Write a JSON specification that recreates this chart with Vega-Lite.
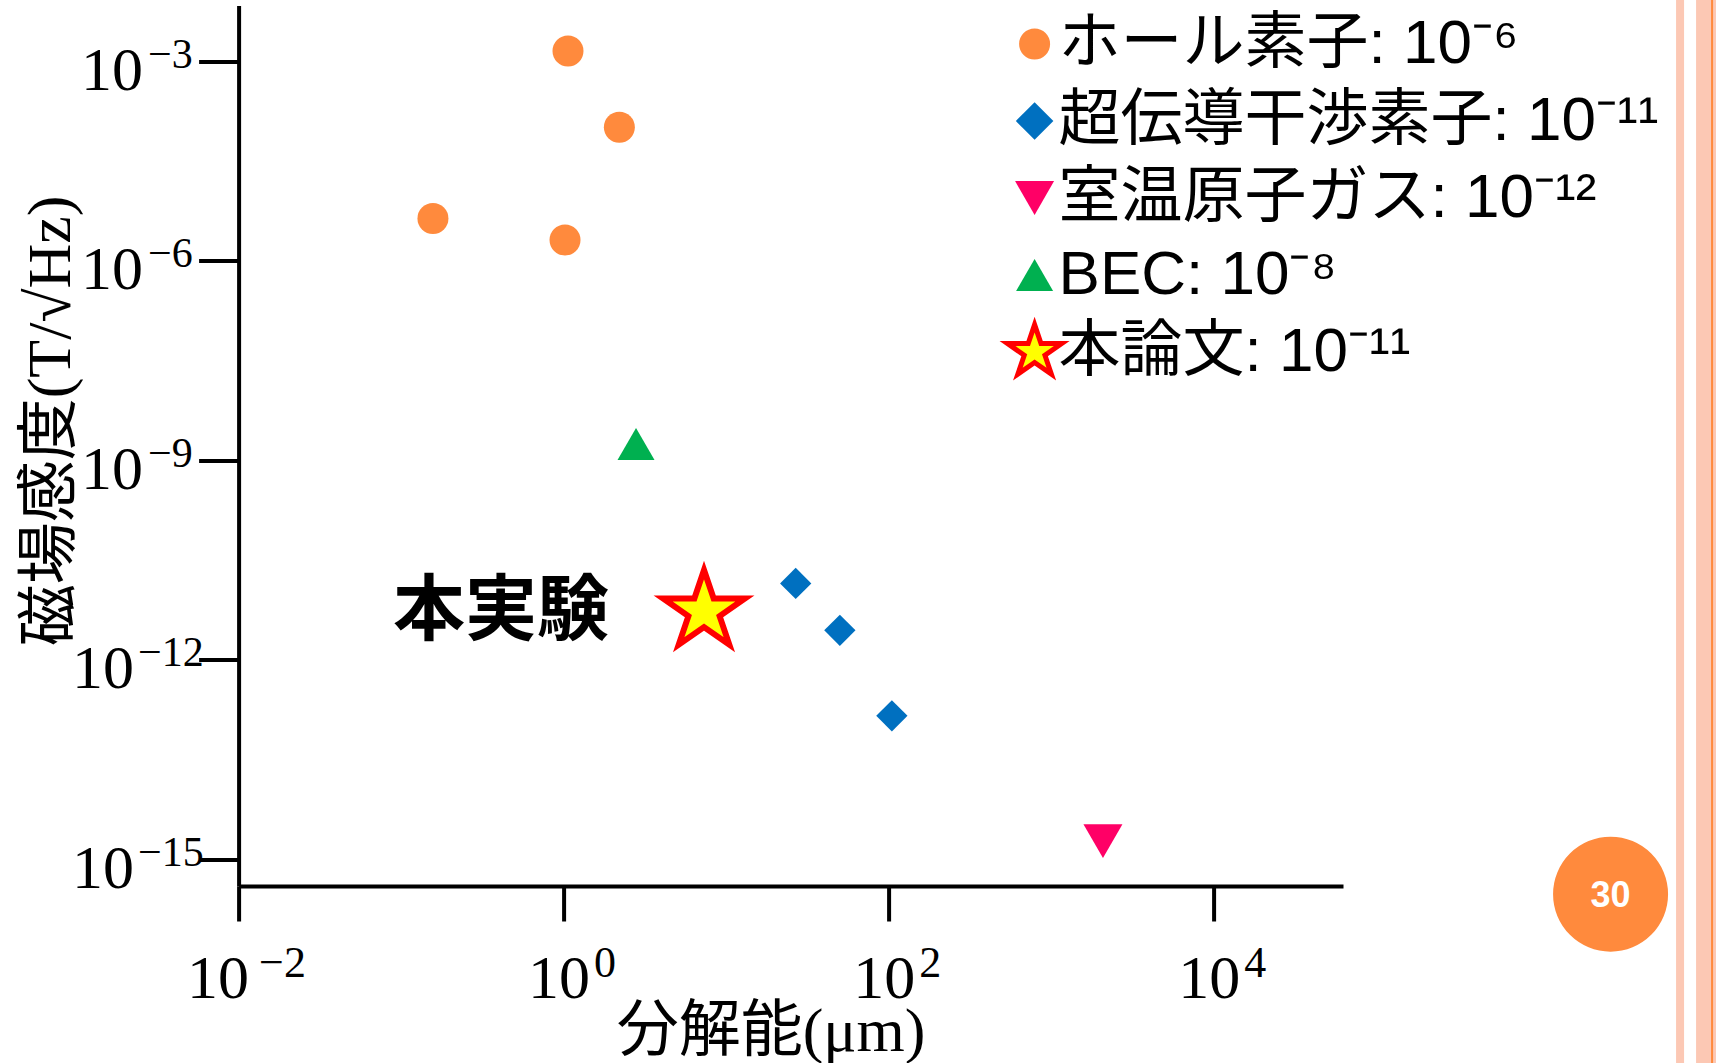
{
  "$schema": "https://vega.github.io/schema/vega-lite/v6.json",
  "width": 1104.4,
  "height": 880.5,
  "autosize": {"type": "none"},
  "padding": {"left": 238.6, "top": 5.5, "right": 373, "bottom": 177},
  "background": "white",
  "config": {"view": {"stroke": null}},
  "resolve": {"axis": {"x": "independent", "y": "independent"}},
  "datasets": {
    "points": [
      {"method": "ホール素子: 10⁻⁶", "resolution": 1.064, "sensitivity": 1.43e-3},
      {"method": "ホール素子: 10⁻⁶", "resolution": 2.203, "sensitivity": 1.02e-4},
      {"method": "ホール素子: 10⁻⁶", "resolution": 0.157, "sensitivity": 4.33e-6},
      {"method": "ホール素子: 10⁻⁶", "resolution": 1.02, "sensitivity": 2.06e-6},
      {"method": "超伝導干渉素子: 10⁻¹¹", "resolution": 26.8, "sensitivity": 1.41e-11},
      {"method": "超伝導干渉素子: 10⁻¹¹", "resolution": 50.1, "sensitivity": 2.78e-12},
      {"method": "超伝導干渉素子: 10⁻¹¹", "resolution": 104.7, "sensitivity": 1.44e-13},
      {"method": "室温原子ガス: 10⁻¹²", "resolution": 2084, "sensitivity": 1.88e-15},
      {"method": "BEC: 10⁻⁸", "resolution": 2.79, "sensitivity": 1.76e-9},
      {"method": "本論文: 10⁻¹¹", "resolution": 7.31, "sensitivity": 5.38e-12}
    ],
    "annotations": [
      {"label": "本実験", "resolution": 0.412, "sensitivity": 5.28e-12}
    ],
    "page": [
      {"label": "30", "resolution": 2.77e6, "sensitivity": 3.0e-16}
    ],
    "stripes": [
      {"from": 7.007e6, "to": 7.848e6},
      {"from": 9.303e6, "to": 2e7}
    ],
    "accent": [
      {"from": 1.1506e7, "to": 1.1838e7}
    ]
  },
  "layer": [
    {
      "data": {"name": "stripes"},
      "mark": {"type": "rect", "color": "#FCC8B4"},
      "encoding": {
        "x": {"field": "from", "type": "quantitative", "scale": {"type": "log", "domain": [0.01, 62517], "nice": false, "zero": false}, "axis": null},
        "x2": {"field": "to"},
        "y": {"datum": 0.1, "type": "quantitative", "scale": {"type": "log", "domain": [3.981e-16, 6.902e-3], "nice": false, "zero": false}, "axis": null},
        "y2": {"datum": 1e-19}
      }
    },
    {
      "data": {"name": "accent"},
      "mark": {"type": "rect", "color": "#FF8A3D"},
      "encoding": {
        "x": {"field": "from", "type": "quantitative", "scale": {"type": "log", "domain": [0.01, 62517], "nice": false, "zero": false}, "axis": null},
        "x2": {"field": "to"},
        "y": {"datum": 0.1, "type": "quantitative", "scale": {"type": "log", "domain": [3.981e-16, 6.902e-3], "nice": false, "zero": false}, "axis": null},
        "y2": {"datum": 1e-19}
      }
    },
    {
      "data": {"name": "page"},
      "mark": {"type": "point", "shape": "circle", "filled": true, "opacity": 1, "size": 13225, "color": "#FF8A3D"},
      "encoding": {
        "x": {"field": "resolution", "type": "quantitative", "scale": {"type": "log", "domain": [0.01, 62517], "nice": false, "zero": false}, "axis": null},
        "y": {"field": "sensitivity", "type": "quantitative", "scale": {"type": "log", "domain": [3.981e-16, 6.902e-3], "nice": false, "zero": false}, "axis": null}
      }
    },
    {
      "data": {"name": "page"},
      "mark": {"type": "text", "font": "Liberation Sans", "fontWeight": "bold", "fontSize": 36, "color": "white", "align": "center", "baseline": "middle", "dy": 2},
      "encoding": {
        "x": {"field": "resolution", "type": "quantitative", "scale": {"type": "log", "domain": [0.01, 62517], "nice": false, "zero": false}, "axis": null},
        "y": {"field": "sensitivity", "type": "quantitative", "scale": {"type": "log", "domain": [3.981e-16, 6.902e-3], "nice": false, "zero": false}, "axis": null},
        "text": {"field": "label"}
      }
    },
    {
      "data": {"name": "points"},
      "transform": [{"filter": {"field": "method", "oneOf": ["ホール素子: 10⁻⁶", "室温原子ガス: 10⁻¹²", "BEC: 10⁻⁸"]}}],
      "mark": {"type": "point", "filled": true, "opacity": 1},
      "encoding": {
        "x": {
          "field": "resolution", "type": "quantitative",
          "scale": {"type": "log", "domain": [0.01, 62517], "nice": false, "zero": false},
          "axis": {
            "orient": "bottom",
            "title": "分解能(μm)",
            "values": [0.01, 1, 100, 10000],
            "labelExpr": "'10'",
            "grid": false,
            "domainColor": "black", "domainWidth": 4,
            "tickColor": "black", "tickWidth": 4, "tickSize": 35,
            "labelFont": "Liberation Serif", "labelFontSize": 62, "labelColor": "black",
            "labelPadding": 27, "labelBaseline": "top", "labelAlign": "center", "labelFlush": false, "labelOverlap": false,
            "labelOffset": {"condition": {"test": "datum.value < 0.1", "value": -21}, "value": -5},
            "titleFont": "Liberation Serif, Noto Sans CJK JP", "titleFontSize": 62, "titleFontWeight": "normal", "titleColor": "black",
            "titleX": 532, "titleY": 145, "titleBaseline": "middle", "titleAlign": "center"
          }
        },
        "y": {
          "field": "sensitivity", "type": "quantitative",
          "scale": {"type": "log", "domain": [3.981e-16, 6.902e-3], "nice": false, "zero": false},
          "axis": {
            "orient": "left",
            "title": "磁場感度(T/√Hz)",
            "values": [1e-15, 1e-12, 1e-9, 1e-6, 1e-3],
            "labelExpr": "'10'",
            "grid": false,
            "domainColor": "black", "domainWidth": 4,
            "tickColor": "black", "tickWidth": 4, "tickSize": 40,
            "labelFont": "Liberation Serif", "labelFontSize": 62, "labelColor": "black",
            "labelPadding": {"condition": {"test": "datum.value < 1e-10", "value": 65}, "value": 56},
            "labelOffset": 9, "labelAlign": "right", "labelBaseline": "middle", "labelOverlap": false, "labelFlush": false,
            "titleFont": "Liberation Serif, Noto Sans CJK JP", "titleFontSize": 62, "titleFontWeight": "normal", "titleColor": "black",
            "titleX": -188, "titleY": 415, "titleBaseline": "middle", "titleAlign": "center", "titleAngle": 270
          }
        },
        "color": {
          "field": "method", "type": "nominal",
          "scale": {
            "domain": ["ホール素子: 10⁻⁶", "超伝導干渉素子: 10⁻¹¹", "室温原子ガス: 10⁻¹²", "BEC: 10⁻⁸", "本論文: 10⁻¹¹"],
            "range": ["#FF8A3D", "#0070C0", "#FF0066", "#00B050", "#FFFF00"]
          },
          "legend": {
            "title": null,
            "orient": "none",
            "legendX": 765,
            "legendY": 7.5,
            "padding": 0,
            "gridAlign": "all",
            "symbolOffset": 0,
            "symbolStrokeWidth": 5,
            "labelOffset": -7,
            "labelFont": "Liberation Sans, Noto Sans CJK JP",
            "labelFontSize": 62,
            "labelColor": "black",
            "labelLimit": 1000,
            "rowPadding": 6
          }
        },
        "shape": {
          "field": "method", "type": "nominal",
          "scale": {
            "domain": ["ホール素子: 10⁻⁶", "超伝導干渉素子: 10⁻¹¹", "室温原子ガス: 10⁻¹²", "BEC: 10⁻⁸", "本論文: 10⁻¹¹"],
            "range": ["circle", "diamond", "triangle-down", "triangle-up", "M0,-0.96L0.2245,-0.2966L0.9511,-0.2966L0.3633,0.1133L0.5878,0.7766L0,0.3667L-0.5878,0.7766L-0.3633,0.1133L-0.9511,-0.2966L-0.2245,-0.2966Z"]
          }
        },
        "size": {
          "field": "method", "type": "nominal",
          "scale": {
            "type": "ordinal",
            "domain": ["ホール素子: 10⁻⁶", "超伝導干渉素子: 10⁻¹¹", "室温原子ガス: 10⁻¹²", "BEC: 10⁻⁸", "本論文: 10⁻¹¹"],
            "range": [961, 1406, 1521, 1370, 3249]
          },
          "legend": null
        },
        "stroke": {
          "field": "method", "type": "nominal",
          "scale": {
            "domain": ["ホール素子: 10⁻⁶", "超伝導干渉素子: 10⁻¹¹", "室温原子ガス: 10⁻¹²", "BEC: 10⁻⁸", "本論文: 10⁻¹¹"],
            "range": ["transparent", "transparent", "transparent", "transparent", "#FF0000"]
          },
          "legend": null
        }
      }
    },
    {
      "data": {"name": "points"},
      "transform": [{"filter": {"field": "method", "oneOf": ["超伝導干渉素子: 10⁻¹¹"]}}],
      "mark": {"type": "point", "filled": true, "opacity": 1, "size": 980},
      "encoding": {
        "x": {"field": "resolution", "type": "quantitative", "scale": {"type": "log", "domain": [0.01, 62517], "nice": false, "zero": false}, "axis": null},
        "y": {"field": "sensitivity", "type": "quantitative", "scale": {"type": "log", "domain": [3.981e-16, 6.902e-3], "nice": false, "zero": false}, "axis": null},
        "color": {"field": "method", "type": "nominal"},
        "shape": {"field": "method", "type": "nominal"}
      }
    },
    {
      "data": {"name": "points"},
      "transform": [{"filter": {"field": "method", "oneOf": ["本論文: 10⁻¹¹"]}}],
      "mark": {"type": "point", "filled": true, "opacity": 1, "size": 7396, "stroke": "#FF0000", "strokeWidth": 6, "strokeJoin": "miter"},
      "encoding": {
        "x": {"field": "resolution", "type": "quantitative", "scale": {"type": "log", "domain": [0.01, 62517], "nice": false, "zero": false}, "axis": null},
        "y": {"field": "sensitivity", "type": "quantitative", "scale": {"type": "log", "domain": [3.981e-16, 6.902e-3], "nice": false, "zero": false}, "axis": null},
        "color": {"field": "method", "type": "nominal"},
        "shape": {"field": "method", "type": "nominal"}
      }
    },
    {
      "data": {"name": "annotations"},
      "mark": {"type": "text", "font": "Noto Sans CJK JP", "fontWeight": "bold", "fontSize": 72, "color": "black", "align": "center", "baseline": "middle"},
      "encoding": {
        "x": {
          "field": "resolution", "type": "quantitative",
          "scale": {"type": "log", "domain": [0.01, 62517], "nice": false, "zero": false},
          "axis": {
            "orient": "bottom",
            "title": null,
            "values": [0.01, 1, 100, 10000],
            "labelExpr": "round(log(datum.value)/LN10) < 0 ? '−' + (-round(log(datum.value)/LN10)) : '' + round(log(datum.value)/LN10)",
            "domain": false, "ticks": false, "tickSize": 0, "grid": false,
            "labelFont": "Liberation Serif", "labelFontSize": 44, "labelColor": "black",
            "labelPadding": 55, "labelBaseline": "top", "labelAlign": "left", "labelFlush": false, "labelOverlap": false,
            "labelOffset": {"condition": {"test": "datum.value < 0.1", "value": 20}, "value": 30}
          }
        },
        "y": {
          "field": "sensitivity", "type": "quantitative",
          "scale": {"type": "log", "domain": [3.981e-16, 6.902e-3], "nice": false, "zero": false},
          "axis": {
            "orient": "left",
            "title": null,
            "values": [1e-15, 1e-12, 1e-9, 1e-6, 1e-3],
            "labelExpr": "'−' + (-round(log(datum.value)/LN10))",
            "domain": false, "ticks": false, "tickSize": 0, "grid": false,
            "labelFont": "Liberation Serif", "labelFontSize": 42, "labelColor": "black",
            "labelPadding": {"condition": {"test": "datum.value < 1e-10", "value": 101}, "value": 91},
            "labelOffset": -7, "labelAlign": "left", "labelBaseline": "middle", "labelFlush": false, "labelOverlap": false
          }
        },
        "text": {"field": "label"}
      }
    }
  ]
}
